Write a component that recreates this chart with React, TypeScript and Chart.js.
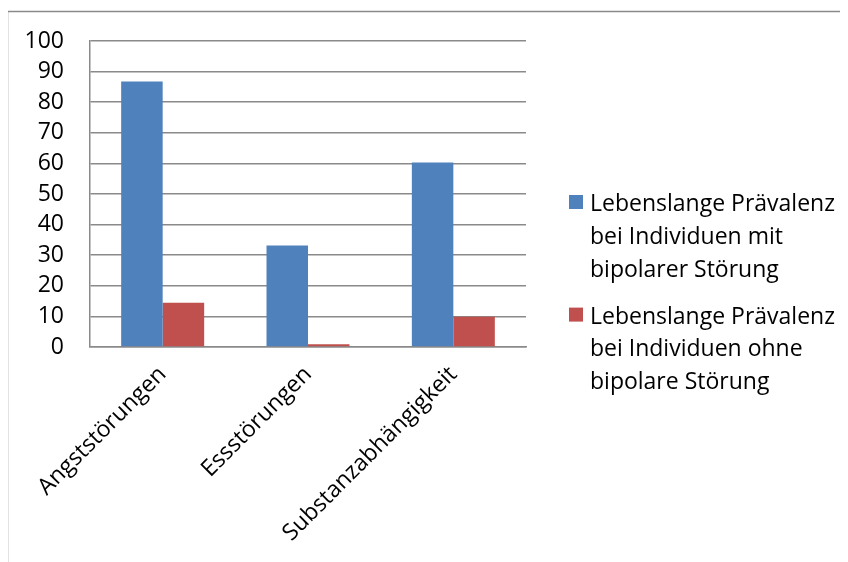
import React, { useEffect, useRef } from "react";
import { Chart, registerables } from "chart.js";

Chart.register(...registerables);

const categories = ["Angststörungen", "Essstörungen", "Substanzabhängigkeit"];
const withBipolar = [86.8, 33.2, 60.3];
const withoutBipolar = [14.5, 0.9, 9.9];
const seriesLabels = [
  ["Lebenslange Prävalenz", "bei Individuen mit", "bipolarer Störung"],
  ["Lebenslange Prävalenz", "bei Individuen ohne", "bipolare Störung"],
];
const seriesColors = ["#4F81BD", "#C0504D"];

const FONT = "'Open Sans', Lato, sans-serif";
const FONT_SIZE = 23;
const GRID = "#8a8a8a";

// Outer frame around the whole chart (top and left edges are visible).
const framePlugin = {
  id: "frame",
  beforeDraw(chart: any) {
    const { ctx, width, height } = chart;
    ctx.save();
    ctx.fillStyle = "#ffffff";
    ctx.fillRect(0, 0, width, height);
    ctx.strokeStyle = GRID;
    ctx.lineWidth = 1.5;
    ctx.beginPath();
    ctx.moveTo(7.5, height);
    ctx.lineTo(7.5, 11.5);
    ctx.lineTo(width, 11.5);
    ctx.stroke();
    ctx.restore();
  },
};

// Legend on the right with wrapped multi-line labels.
const sideLegendPlugin = {
  id: "sideLegend",
  afterDraw(chart: any) {
    const { ctx } = chart;
    const boxX = 569;
    const textX = 590;
    const firstBaseline = 211;
    const lineStep = 32.8;
    const itemStep = 112.6;
    ctx.save();
    ctx.font = `${FONT_SIZE}px ${FONT}`;
    ctx.textBaseline = "alphabetic";
    ctx.textAlign = "left";
    chart.data.datasets.forEach((ds: any, i: number) => {
      const base = firstBaseline + i * itemStep;
      ctx.fillStyle = ds.backgroundColor;
      ctx.fillRect(boxX, base - 16, 14, 14);
      ctx.fillStyle = "#000000";
      (ds.label as string[]).forEach((line: string, j: number) => {
        ctx.fillText(line, textX, base + j * lineStep);
      });
    });
    ctx.restore();
  },
};

export default function App() {
  const canvasRef = useRef<HTMLCanvasElement | null>(null);

  useEffect(() => {
    if (!canvasRef.current) return;
    const chart = new Chart(canvasRef.current, {
      type: "bar",
      data: {
        labels: categories,
        datasets: [
          {
            label: seriesLabels[0] as any,
            data: withBipolar,
            backgroundColor: seriesColors[0],
            categoryPercentage: 0.571,
            barPercentage: 1,
          },
          {
            label: seriesLabels[1] as any,
            data: withoutBipolar,
            backgroundColor: seriesColors[1],
            categoryPercentage: 0.571,
            barPercentage: 1,
          },
        ],
      },
      options: {
        animation: false,
        responsive: false,
        maintainAspectRatio: false,
        layout: { padding: { top: 41, right: 322, left: 0, bottom: 0 } },
        plugins: {
          legend: { display: false },
          tooltip: { enabled: false },
        },
        scales: {
          x: {
            grid: { display: false, drawTicks: false },
            border: { display: true, color: GRID, width: 1.5 },
            ticks: {
              minRotation: 45,
              maxRotation: 45,
              padding: 14,
              color: "#000000",
              font: { family: FONT, size: FONT_SIZE },
            },
            afterFit(scale: any) {
              scale.height = 215;
            },
          },
          y: {
            min: 0,
            max: 100,
            ticks: {
              stepSize: 10,
              padding: 26,
              color: "#000000",
              font: { family: FONT, size: FONT_SIZE },
            },
            grid: { color: GRID, lineWidth: 1.5, drawTicks: false },
            border: { display: true, color: GRID, width: 1.5 },
            afterFit(scale: any) {
              scale.width = 90;
            },
          },
        },
      },
      plugins: [framePlugin, sideLegendPlugin],
    });
    return () => chart.destroy();
  }, []);

  return (
    <div style={{ marginLeft: -8, marginTop: -8, width: 848, height: 562 }}>
      <canvas ref={canvasRef} width={848} height={562} style={{ display: "block" }} />
    </div>
  );
}
